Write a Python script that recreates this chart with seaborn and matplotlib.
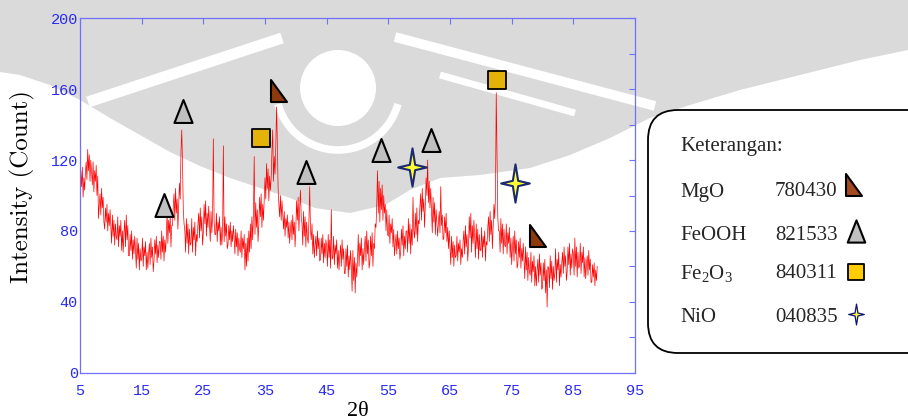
import numpy as np
import pandas as pd
import matplotlib
matplotlib.use("Agg")
import matplotlib.pyplot as plt
import seaborn as sns
from matplotlib.path import Path
from matplotlib.patches import FancyBboxPatch, Polygon, Circle, Arc

# XRD scan, 2-theta from 5 deg in 0.125 deg steps (one row per degree)
scan_start = 5.0
scan_step = 0.125
intensity = [
    101, 114, 105, 116, 99, 110, 103, 113,    # 5
    119, 109, 126, 114, 123, 108, 120, 113,   # 6
    106, 119, 102, 114, 108, 117, 100, 111,   # 7
    87, 95, 101, 89, 104, 93, 99, 85,         # 8
    81, 93, 85, 95, 80, 90, 83, 92,           # 9
    83, 73, 89, 77, 86, 72, 84, 77,           # 10
    75, 88, 71, 83, 77, 86, 69, 80,           # 11
    68, 79, 86, 71, 89, 75, 83, 66,           # 12
    66, 78, 69, 80, 64, 75, 67, 77,           # 13
    69, 59, 76, 64, 73, 58, 70, 63,           # 14
    64, 76, 60, 71, 66, 74, 58, 68,           # 15
    59, 67, 73, 61, 76, 65, 71, 57,           # 16
    63, 75, 67, 77, 62, 72, 65, 74,           # 17
    74, 64, 80, 68, 77, 63, 75, 68,           # 18
    77, 91, 73, 86, 79, 89, 71, 83,           # 19
    83, 94, 101, 86, 104, 90, 98, 81,         # 20
    94, 107, 98, 125, 137, 118, 92, 84,       # 21
    80, 68, 87, 73, 84, 67, 81, 72,           # 22
    73, 87, 68, 82, 75, 85, 66, 78,           # 23
    74, 84, 90, 76, 93, 80, 88, 72,           # 24
    79, 95, 84, 97, 77, 90, 82, 94,           # 25
    84, 74, 91, 79, 88, 132, 85, 78,          # 26
    78, 90, 74, 85, 80, 88, 72, 82,           # 27
    72, 80, 128, 74, 88, 77, 84, 70,          # 28
    72, 83, 75, 85, 71, 80, 74, 83,           # 29
    76, 67, 81, 71, 79, 66, 76, 70,           # 30
    68, 80, 65, 76, 70, 78, 58, 73,           # 31
    60, 76, 63, 80, 68, 84, 70, 88,           # 32
    75, 90, 122, 78, 96, 82, 92, 74,          # 33
    84, 99, 88, 101, 82, 95, 86, 98,          # 34
    110, 98, 118, 104, 115, 97, 111, 103,     # 35
    110, 125, 137, 108, 122, 112, 128, 150,   # 36
    130, 104, 95, 88, 100, 86, 97, 90,        # 37
    81, 91, 77, 87, 82, 89, 76, 85,           # 38
    73, 81, 86, 75, 89, 78, 85, 71,           # 39
    82, 97, 86, 99, 80, 93, 103, 88,          # 40
    84, 72, 91, 77, 88, 71, 85, 76,           # 41
    73, 86, 105, 81, 75, 84, 67, 78,          # 42
    65, 72, 77, 66, 80, 70, 76, 63,           # 43
    64, 76, 67, 78, 62, 73, 65, 75,           # 44
    71, 60, 78, 65, 75, 59, 92, 64,           # 45
    65, 77, 61, 72, 67, 75, 59, 69,           # 46
    58, 66, 72, 60, 75, 64, 70, 56,           # 47
    56, 70, 60, 72, 54, 66, 58, 69,           # 48
    60, 46, 69, 52, 65, 45, 62, 54,           # 49
    64, 78, 60, 73, 66, 76, 58, 70,           # 50
    61, 71, 77, 63, 80, 67, 75, 59,           # 51
    62, 77, 66, 79, 60, 73, 70, 84,           # 52
    82, 96, 114, 90, 108, 85, 104, 92,        # 53
    106, 86, 100, 90, 95, 80, 92, 78,         # 54
    77, 89, 73, 84, 79, 87, 71, 81,           # 55
    66, 73, 78, 67, 80, 70, 76, 64,           # 56
    68, 81, 72, 83, 66, 77, 70, 80,           # 57
    80, 68, 87, 73, 84, 67, 81, 72,           # 58
    99, 80, 76, 90, 78, 93, 74, 86,           # 59
    84, 94, 101, 86, 104, 91, 98, 82,         # 60
    95, 110, 100, 120, 96, 108, 93, 104,      # 61
    91, 79, 99, 85, 96, 78, 92, 84,           # 62
    77, 85, 91, 79, 105, 83, 89, 75,          # 63
    76, 88, 79, 90, 74, 82, 70, 80,           # 64
    71, 61, 77, 65, 74, 60, 72, 65,           # 65
    66, 77, 63, 73, 68, 75, 61, 70,           # 66
    65, 74, 80, 67, 83, 71, 78, 63,           # 67
    71, 88, 76, 90, 68, 83, 73, 86,           # 68
    77, 65, 84, 70, 81, 64, 78, 69,           # 69
    69, 82, 65, 77, 71, 80, 63, 74,           # 70
    72, 82, 88, 74, 91, 78, 86, 70,           # 71
    82, 95, 87, 100, 158, 122, 88, 80,        # 72
    80, 68, 87, 73, 84, 67, 81, 72,           # 73
    71, 84, 67, 79, 73, 82, 65, 76,           # 74
    61, 71, 77, 63, 80, 67, 75, 59,           # 75
    61, 74, 65, 76, 59, 70, 63, 73,           # 76
    64, 53, 71, 58, 68, 52, 65, 57,           # 77
    55, 68, 51, 63, 57, 66, 49, 60,           # 78
    49, 58, 64, 51, 67, 55, 62, 47,           # 79
    48, 62, 52, 64, 45, 58, 37, 60,           # 80
    59, 48, 66, 53, 63, 47, 60, 52,           # 81
    56, 70, 51, 64, 58, 68, 49, 61,           # 82
    54, 62, 68, 56, 71, 60, 66, 52,           # 83
    57, 71, 61, 73, 55, 67, 59, 70,           # 84
    67, 55, 76, 60, 71, 54, 68, 59,           # 85
    60, 73, 56, 68, 62, 71, 54, 65,           # 86
    53, 61, 66, 55, 69, 58, 64, 51,           # 87
    51, 61, 54, 62, 49, 58, 52, 60,           # 88
]

# Phase identification: reference codes and marked reflections (2-theta, intensity)
phase_names = ["MgO", "FeOOH", r"Fe$\mathregular{_2}$O$\mathregular{_3}$", "NiO"]
phase_codes = ["780430", "821533", "840311", "040835"]
mgo_x = [37.3, 79.2]
mgo_y = [159, 77]
feooh_x = [18.6, 21.65, 41.65, 53.8, 61.85]
feooh_y = [94.6, 147.6, 113, 125.4, 131.6]
fe2o3_x = [34.35, 72.6]
fe2o3_y = [132.6, 165]
nio_x = [58.8, 75.5]
nio_y = [116, 106.8]

# marker shapes
tri_iso = Path([(0, 1), (-0.79, -1), (0.79, -1), (0, 1)],
               [Path.MOVETO, Path.LINETO, Path.LINETO, Path.CLOSEPOLY])
tri_right = Path([(-0.67, 1), (-0.67, -1), (0.67, -1), (-0.67, 1)],
                 [Path.MOVETO, Path.LINETO, Path.LINETO, Path.CLOSEPOLY])
square = Path([(-1, -1), (1, -1), (1, 1), (-1, 1), (-1, -1)],
              [Path.MOVETO, Path.LINETO, Path.LINETO, Path.LINETO, Path.CLOSEPOLY])
star_pts = [(0, 1), (0.14, 0.14), (0.75, 0), (0.14, -0.14), (0, -1),
            (-0.14, -0.14), (-0.75, 0), (-0.14, 0.14), (0, 1)]
star4 = Path(star_pts, [Path.MOVETO] + [Path.LINETO] * 7 + [Path.CLOSEPOLY])

BROWN = "#8e3a0c"
GRAY = "#c0c0c0"
GOLD = "#e3b30a"
STAR_FILL = "#ffff33"
STAR_EDGE = "#1e2a6e"
FRAME = "#7070ff"
TICKTXT = "#2a2af0"
SHADE = "#dadada"

sns.set_theme(style="white")
plt.rcParams["mathtext.fontset"] = "custom"
plt.rcParams["mathtext.rm"] = "Liberation Serif"

W, H = 908, 420
fig = plt.figure(figsize=(W / 100, H / 100), dpi=100)
fig.patch.set_facecolor("white")

# faint emblem behind the chart
bg = fig.add_axes([0, 0, 1, 1], zorder=0)
bg.set_xlim(0, W)
bg.set_ylim(H, 0)
bg.axis("off")
emblem = [(0, 0), (908, 0), (908, 50), (860, 60), (800, 75), (740, 90),
          (690, 105), (650, 118), (610, 138), (570, 155), (530, 168),
          (480, 175), (440, 178), (410, 190), (385, 205), (350, 213),
          (315, 208), (290, 198), (260, 188), (230, 178), (200, 166),
          (170, 152), (140, 135), (110, 118), (80, 100), (50, 85),
          (20, 75), (0, 72)]
bg.add_patch(Polygon(emblem, closed=True, fc=SHADE, ec="none"))
bg.add_patch(Circle((338, 88), 38, fc="white", ec="none"))
bg.add_patch(Arc((338, 88), 124, 124, theta1=15, theta2=165,
                 color="white", lw=5.5))
bg.plot([88, 282], [102, 38], color="white", lw=8, solid_capstyle="butt")
bg.plot([395, 655], [37, 106], color="white", lw=7, solid_capstyle="butt")
bg.plot([440, 575], [75, 113], color="white", lw=5, solid_capstyle="butt")

ax = fig.add_axes([80 / W, 1 - 372.7 / H, 555 / W, 354.4 / H], zorder=1)
ax.set_facecolor("none")

two_theta = scan_start + scan_step * np.arange(len(intensity))
scan = pd.DataFrame({"two_theta": two_theta, "intensity": intensity})
sns.lineplot(data=scan, x="two_theta", y="intensity", ax=ax, color="#ff0000",
             linewidth=0.5, estimator=None, sort=False, zorder=2)


def mark(xs, ys, marker, size, fill, edge, lw):
    sns.scatterplot(x=xs, y=ys, ax=ax, marker=marker, s=size ** 2, color=fill,
                    edgecolor=edge, linewidth=lw, zorder=4, legend=False)


mark(feooh_x, feooh_y, tri_iso, 16.5, GRAY, "black", 1.5)
mark(mgo_x, mgo_y, tri_right, 16.5, BROWN, "black", 1.5)
mark(fe2o3_x, fe2o3_y, square, 13.5, GOLD, "black", 1.3)
mark(nio_x, nio_y, star4, 27.5, STAR_FILL, STAR_EDGE, 1.5)

ax.set_xlim(5, 95)
ax.set_ylim(0, 200)
ax.set_xticks(np.arange(5, 96, 10))
ax.set_yticks(np.arange(0, 201, 40))
ax.set_yticks(np.arange(20, 200, 40), minor=True)
ax.tick_params(which="both", direction="in", top=True, right=True, length=4,
               width=0.8, color=FRAME, labelcolor=TICKTXT)
ax.tick_params(axis="x", pad=8)
ax.tick_params(axis="y", pad=1.5)
for lab in ax.get_xticklabels() + ax.get_yticklabels():
    lab.set_fontfamily("Liberation Mono")
    lab.set_fontsize(11)
for sp in ax.spines.values():
    sp.set_color(FRAME)
    sp.set_linewidth(0.9)
ax.set_xlabel("")
ax.set_ylabel("")

fig.text(22 / W, 1 - 187 / H, "Intensity (Count)", rotation=90, ha="center",
         va="center", fontfamily="cmr10", fontsize=18, color="black")
fig.text(358 / W, 1 - 411 / H, "2θ", ha="center", va="center",
         fontfamily="Liberation Serif", fontsize=16, color="black")

# key panel
kp = fig.add_axes([0, 0, 1, 1], zorder=5)
kp.set_xlim(0, W)
kp.set_ylim(H, 0)
kp.axis("off")
kp.patch.set_alpha(0)
kp.add_patch(FancyBboxPatch((648, 110), 320, 243,
                            boxstyle="round,pad=0,rounding_size=30",
                            fc="white", ec="black", lw=1.3))
kp.text(680, 147, "Keterangan:", fontfamily="Liberation Serif", fontsize=15,
        va="center", ha="left")
rows_y = [192, 236, 274, 318]
for name, code, yy in zip(phase_names, phase_codes, rows_y):
    kp.text(680, yy, name, fontfamily="Liberation Serif", fontsize=15,
            va="center", ha="left")
    kp.text(775, yy, code, fontfamily="Liberation Serif", fontsize=15,
            va="center", ha="left")
kp.scatter([854], [185], marker=tri_right, s=16.5 ** 2, color="#a44a20",
           edgecolor="black", linewidth=1.5)
kp.scatter([856], [231], marker=tri_iso, s=16 ** 2, color=GRAY,
           edgecolor="black", linewidth=1.5)
kp.scatter([855.5], [272], marker=square, s=11.5 ** 2, color="#ffcc00",
           edgecolor="black", linewidth=1.3)
kp.scatter([855.5], [314], marker=star4, s=15 ** 2, color=STAR_FILL,
           edgecolor="#101080", linewidth=0.9)

fig.savefig("out.png", dpi=100)
